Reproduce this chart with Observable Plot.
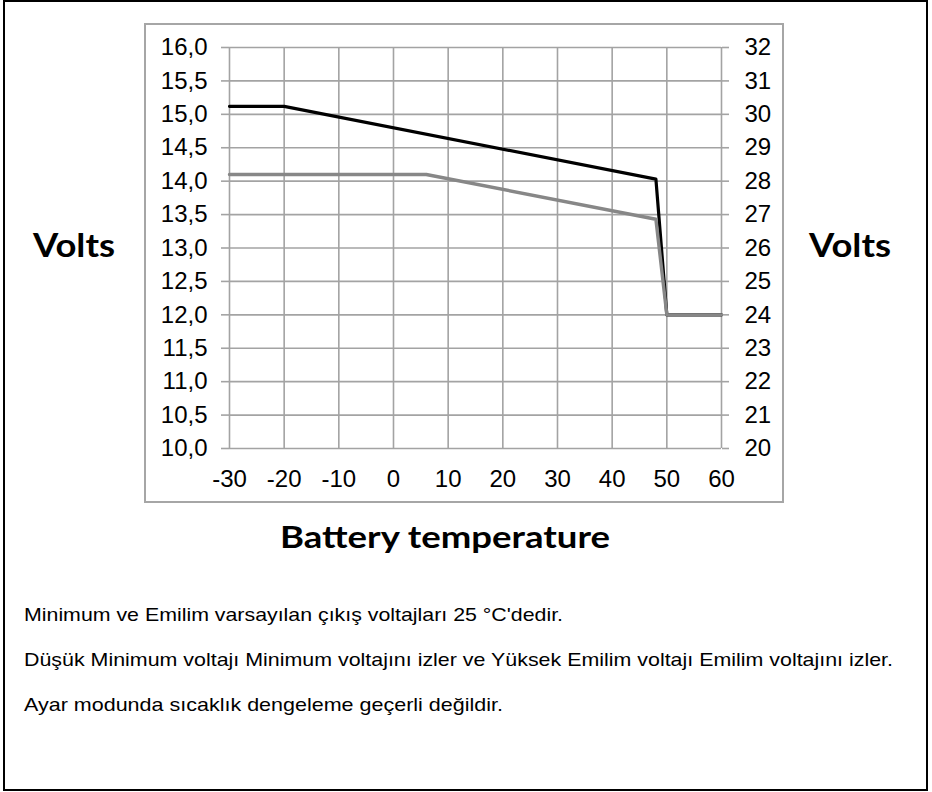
<!DOCTYPE html>
<html>
<head>
<meta charset="utf-8">
<script src="https://cdn.jsdelivr.net/npm/d3@7"></script>
<script src="https://cdn.jsdelivr.net/npm/@observablehq/plot@0.6"></script>
<style>
html,body{margin:0;padding:0;background:#fff;}
#page{position:relative;width:932px;height:792px;overflow:hidden;background:#fff;}
#outer{position:absolute;left:3px;top:0;width:921px;height:787px;border:2px solid #000;}
#box{position:absolute;left:144px;top:23px;width:636px;height:476px;border:2px solid #a6a6a6;background:#fff;}
#box svg{display:block;}
#overlay{position:absolute;left:0;top:0;}
</style>
</head>
<body>
<div id="page">
  <div id="outer"></div>
  <div id="box"></div>
  <svg id="overlay" width="932" height="792"></svg>
</div>
<script>
// ---- data ----
const absorptionTemps = [-30, -20, 48, 50, 60];
const absorptionVolts = [15.12, 15.12, 14.03, 12.0, 12.0];
const floatTemps = [-30, 6, 48, 50, 60];
const floatVolts = [14.1, 14.1, 13.43, 12.0, 12.0];
const xTicks = [-30, -20, -10, 0, 10, 20, 30, 40, 50, 60];
const yTicks = [10, 10.5, 11, 11.5, 12, 12.5, 13, 13.5, 14, 14.5, 15, 15.5, 16];
const yRightTicks = [20, 21, 22, 23, 24, 25, 26, 27, 28, 29, 30, 31, 32];
const yLabel = "Volts";
const xLabel = "Battery temperature";
const notes = [
  "Minimum ve Emilim varsayılan çıkış voltajları 25 °C'dedir.",
  "Düşük Minimum voltajı Minimum voltajını izler ve Yüksek Emilim voltajı Emilim voltajını izler.",
  "Ayar modunda sıcaklık dengeleme geçerli değildir."
];

const absorption = absorptionTemps.map((t, i) => ({t, v: absorptionVolts[i]}));
const floatLine = floatTemps.map((t, i) => ({t, v: floatVolts[i]}));
const gridColor = "#a3a3a3";

const chart = Plot.plot({
  width: 636,
  height: 476,
  marginLeft: 83,
  marginRight: 61,
  marginTop: 22,
  marginBottom: 53,
  style: {fontFamily: "'Liberation Sans', Arial, sans-serif", fontSize: "24px", color: "#000", background: "#fff"},
  x: {domain: [-30, 60]},
  y: {domain: [10, 16]},
  marks: [
    Plot.gridX(xTicks, {stroke: gridColor, strokeOpacity: 1, strokeWidth: 1.6}),
    Plot.gridY(yTicks, {stroke: gridColor, strokeOpacity: 1, strokeWidth: 1.6}),
    Plot.axisY(yTicks, {anchor: "left", tickSize: 8, tickPadding: 14, stroke: gridColor, strokeWidth: 1.6, fill: "#000", fontSize: 24,
      tickFormat: d => d.toFixed(1).replace(".", ","), label: null}),
    Plot.axisY(yTicks, {anchor: "right", tickSize: 7, tickPadding: 16, stroke: gridColor, strokeWidth: 1.6, fill: "#000", fontSize: 24,
      tickFormat: d => String(yRightTicks[yTicks.indexOf(d)]), label: null}),
    Plot.axisX(xTicks, {anchor: "bottom", tickSize: 0, tickPadding: 21, fill: "#000", fontSize: 24,
      tickFormat: d => String(d), label: null}),
    Plot.line(absorption, {x: "t", y: "v", stroke: "#000", strokeWidth: 3.2}),
    Plot.line(floatLine, {x: "t", y: "v", stroke: "#878787", strokeWidth: 3.4})
  ]
});
document.getElementById("box").appendChild(chart);

// ---- text overlay ----
const ov = d3.select("#overlay");
const bold = "Lato, 'Open Sans', sans-serif";
function label(x, y, size, len, s) {
  ov.append("text").attr("x", x).attr("y", y).attr("text-anchor", "middle")
    .attr("font-family", bold).attr("font-weight", 700).attr("font-size", size)
    .attr("textLength", len).attr("lengthAdjust", "spacingAndGlyphs").text(s);
}
label(74, 257, 32, 82, yLabel);
label(850, 257, 32, 82, yLabel);
label(445, 548, 30, 330, xLabel);
const noteY = [621, 666, 711];
const noteLen = [539, 869, 479];
notes.forEach((s, i) => {
  ov.append("text").attr("x", 24).attr("y", noteY[i])
    .attr("font-family", "'Liberation Sans', Arial, sans-serif").attr("font-size", 19).attr("fill", "#000")
    .attr("textLength", noteLen[i]).attr("lengthAdjust", "spacingAndGlyphs").text(s);
});
</script>
</body>
</html>
